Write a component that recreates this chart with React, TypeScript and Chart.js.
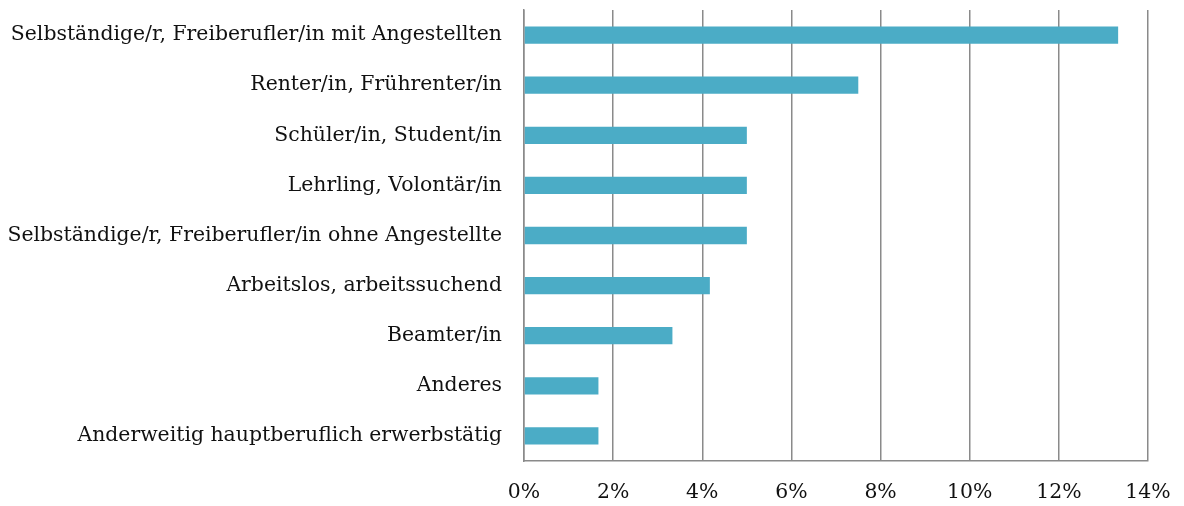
import React, { useEffect, useRef } from "react";
import { Chart, registerables } from "chart.js";

Chart.register(...registerables);

const categories: string[] = [
  "Selbständige/r, Freiberufler/in mit Angestellten",
  "Renter/in, Frührenter/in",
  "Schüler/in, Student/in",
  "Lehrling, Volontär/in",
  "Selbständige/r, Freiberufler/in ohne Angestellte",
  "Arbeitslos, arbeitssuchend",
  "Beamter/in",
  "Anderes",
  "Anderweitig hauptberuflich erwerbstätig",
];

const shares: number[] = [13.33, 7.5, 5.0, 5.0, 5.0, 4.17, 3.33, 1.67, 1.67];

const xTickValues: number[] = [0, 2, 4, 6, 8, 10, 12, 14];

const FONT = "'DejaVu Serif', 'Liberation Serif', serif";

export default function App() {
  const canvasRef = useRef<HTMLCanvasElement | null>(null);

  useEffect(() => {
    document.body.style.margin = "0";
    const canvas = canvasRef.current;
    if (!canvas) return;
    const chart = new Chart(canvas, {
      type: "bar",
      data: {
        labels: categories,
        datasets: [
          {
            data: shares,
            backgroundColor: "#4bacc6",
            borderWidth: 0,
            barPercentage: 0.345,
            categoryPercentage: 1,
          },
        ],
      },
      options: {
        indexAxis: "y",
        animation: false,
        responsive: false,
        maintainAspectRatio: false,
        layout: { padding: { top: 10, right: 36, bottom: 0, left: 0 } },
        plugins: {
          legend: { display: false },
          tooltip: { enabled: false },
        },
        scales: {
          x: {
            min: 0,
            max: 14,
            afterBuildTicks: (scale: any) => {
              scale.ticks = xTickValues.map((v) => ({ value: v }));
            },
            afterFit: (scale: any) => {
              scale.height = 45;
              scale.paddingLeft = 0;
              scale.paddingRight = 0;
            },
            grid: {
              color: "#8a8a8a",
              lineWidth: 1.5,
              drawTicks: false,
            },
            border: { display: true, color: "#8a8a8a", width: 1.5 },
            ticks: {
              color: "#111",
              padding: 19,
              font: { family: FONT, size: 20.4 },
              callback: (v: any) => `${v}%`,
            },
          },
          y: {
            afterFit: (scale: any) => {
              scale.width = 524;
              scale.paddingTop = 0;
              scale.paddingBottom = 0;
            },
            grid: { display: false, drawTicks: false },
            border: { display: true, color: "#8a8a8a", width: 1.5 },
            ticks: {
              color: "#111",
              padding: 22,
              font: { family: FONT, size: 20.4 },
            },
          },
        },
      },
    });
    return () => chart.destroy();
  }, []);

  return (
    <div style={{ width: 1184, height: 506, background: "#fff" }}>
      <canvas ref={canvasRef} width={1184} height={506} />
    </div>
  );
}
